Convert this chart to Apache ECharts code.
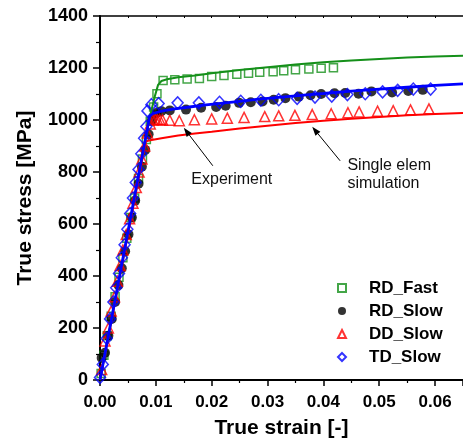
<!DOCTYPE html>
<html><head><meta charset="utf-8">
<script src="https://cdn.jsdelivr.net/npm/echarts/dist/echarts.min.js"></script>
<style>html,body{margin:0;padding:0;background:#fff}#c{width:463px;height:444px}</style>
</head><body><div id="c"></div>
<script>
// Experimental data (markers)
const rdFastStrain = [0.0002,0.0007,0.0013,0.0020,0.0027,0.0034,0.0041,0.0048,0.0055,0.0062,0.0069,0.0076,0.0083,0.0090,0.0096,0.0102,0.0113,0.0134,0.0156,0.0178,0.0200,0.0222,0.0245,0.0266,0.0286,0.0310,0.0329,0.0350,0.0374,0.0396,0.0418];
const rdFastStress = [25,95,170,245,320,395,470,545,625,700,775,850,925,995,1050,1101,1152,1155,1158,1160,1167,1171,1176,1180,1184,1186,1189,1193,1196,1199,1201];
const rdSlowStrain = [0.0003,0.0009,0.0015,0.0021,0.0027,0.0033,0.0039,0.0045,0.0051,0.0057,0.0063,0.0069,0.0075,0.0081,0.0087,0.0093,0.0101,0.0110,0.0125,0.0154,0.0181,0.0208,0.0225,0.0249,0.0270,0.0291,0.0311,0.0332,0.0356,0.0377,0.0396,0.0420,0.0439,0.0463,0.0486,0.0523,0.0552,0.0578];
const rdSlowStress = [85,105,170,235,300,365,430,495,560,625,690,755,820,885,945,1000,1027,1034,1037,1040,1047,1050,1055,1066,1068,1071,1078,1084,1090,1095,1100,1103,1104,1101,1110,1106,1112,1116];
const ddSlowStrain = [0.0003,0.0009,0.0015,0.0020,0.0026,0.0031,0.0036,0.0041,0.0047,0.0053,0.0059,0.0065,0.0070,0.0075,0.0080,0.0085,0.0090,0.0095,0.0099,0.0103,0.0107,0.0112,0.0125,0.0142,0.0169,0.0200,0.0228,0.0258,0.0295,0.0320,0.0349,0.0380,0.0414,0.0444,0.0464,0.0497,0.0525,0.0556,0.0589];
const ddSlowStress = [40,150,200,265,320,380,440,500,560,620,680,740,800,850,900,950,985,1000,1003,1001,1002,1000,999,997,1001,1004,1007,1010,1013,1016,1018,1021,1024,1028,1031,1034,1036,1039,1043];
const tdSlowStrain = [0.0000,0.0005,0.0012,0.0018,0.0024,0.0029,0.0034,0.0039,0.0044,0.0049,0.0054,0.0059,0.0064,0.0069,0.0074,0.0079,0.0083,0.0085,0.0092,0.0105,0.0139,0.0177,0.0214,0.0252,0.0288,0.0320,0.0353,0.0385,0.0415,0.0443,0.0475,0.0506,0.0533,0.0561,0.0592];
const tdSlowStress = [10,60,160,235,300,355,410,470,520,580,640,700,760,810,870,930,975,1035,1059,1063,1066,1066,1068,1072,1076,1078,1083,1088,1092,1098,1101,1108,1114,1119,1119];

// Single element simulation (lines)
const simFastStrain = [0,0.0089,0.0098,0.0104,0.0110,0.012,0.014,0.017,0.020,0.025,0.030,0.035,0.040,0.045,0.050,0.055,0.060,0.065];
const simFastStress = [0,1010,1090,1135,1150,1157,1164,1171,1180,1192,1203,1213,1222,1229,1235,1240,1244,1247];
const simSlowStrain = [0,0.0089,0.0095,0.0110,0.013,0.016,0.019,0.022,0.025,0.028,0.031,0.034,0.037,0.040,0.045,0.050,0.055,0.060,0.065];
const simSlowStress = [0,1015,1025,1034,1042,1050,1058,1065,1072,1079,1085,1091,1097,1102,1111,1119,1126,1133,1139];
const simDDStrain = [0,0.0082,0.009,0.011,0.014,0.017,0.020,0.025,0.030,0.035,0.040,0.045,0.050,0.055,0.060,0.065];
const simDDStress = [0,918,922,930,940,948,955,967,978,988,997,1005,1012,1018,1023,1027];

const legendNames = ['RD_Fast','RD_Slow','DD_Slow','TD_Slow'];
const xTicks = [0,0.01,0.02,0.03,0.04,0.05,0.06];
const yTicks = [0,200,400,600,800,1000,1200,1400];

const zip = (a,b) => a.map((v,i)=>[v,b[i]]);
const FONT = 'Liberation Sans, Arial, sans-serif';
const GREEN = '#15901a', RED = '#ff0000', BLUE = '#0000ff', BLACK = '#000000';

const chart = echarts.init(document.getElementById('c'), null, {renderer:'canvas'});
const hollow = c => ({color:'rgba(255,255,255,0)', borderColor:c, borderWidth:1.5});

chart.setOption({
  animation:false,
  backgroundColor:'#fff',
  grid:{left:100, top:16, width:365, height:366.5, containLabel:false},
  xAxis:[{
    type:'value', min:0, max:0.065, interval:0.01, position:'bottom',
    name:'True strain [-]', nameLocation:'middle', nameGap:38,
    nameTextStyle:{fontFamily:FONT, fontWeight:'bold', fontSize:21, color:'#000'},
    axisLine:{onZero:false, lineStyle:{color:'#000', width:2}},
    axisTick:{show:true, inside:false, length:6, lineStyle:{color:'#000', width:1.5}},
    minorTick:{show:true, splitNumber:2, length:3, lineStyle:{color:'#000', width:1.2}},
    splitLine:{show:false},
    axisLabel:{fontFamily:FONT, fontWeight:'bold', fontSize:17, color:'#000', margin:14, showMaxLabel:false,
      formatter:v => xTicks.some(t=>Math.abs(t-v)<1e-9) ? v.toFixed(2) : ''}
  },{
    type:'value', min:0, max:0.065, interval:0.01, position:'top',
    axisLine:{onZero:false, lineStyle:{color:'#000', width:1.5}},
    axisTick:{show:true, inside:true, length:2, lineStyle:{color:'#000', width:1}},
    minorTick:{show:true, splitNumber:2, length:2, lineStyle:{color:'#000', width:1}},
    splitLine:{show:false}, axisLabel:{show:false}
  }],
  yAxis:{
    type:'value', min:0, max:1400, interval:200,
    name:'True stress [MPa]', nameLocation:'middle', nameGap:64, nameRotate:90,
    nameTextStyle:{fontFamily:FONT, fontWeight:'bold', fontSize:21, color:'#000'},
    axisLine:{show:true, lineStyle:{color:'#000', width:2}},
    axisTick:{show:true, inside:false, length:7, lineStyle:{color:'#000', width:1.5}},
    minorTick:{show:true, splitNumber:2, length:4, lineStyle:{color:'#000', width:1.2}},
    splitLine:{show:false},
    axisLabel:{fontFamily:FONT, fontWeight:'bold', fontSize:18, color:'#000', margin:12,
      formatter:v => yTicks.includes(v) ? String(v) : ''}
  },
  legend:{
    orient:'vertical', left:332, top:274.5, itemWidth:8, itemHeight:8, itemGap:6,
    data:legendNames,
    formatter:n => '{t|'+n+'}',
    textStyle:{rich:{t:{fontFamily:FONT, fontWeight:'bold', fontSize:17, lineHeight:17, color:'#000', padding:[0,0,0,18]}}}
  },
  series:[
    {name:'RD_Fast', type:'scatter', symbol:'rect', symbolSize:8, itemStyle:hollow(GREEN), data:zip(rdFastStrain, rdFastStress), z:3},
    {name:'RD_Slow', type:'scatter', symbol:'circle', symbolSize:10, itemStyle:{color:BLACK}, data:zip(rdSlowStrain, rdSlowStress), z:3},
    {name:'DD_Slow', type:'scatter', symbol:'triangle', symbolSize:10, itemStyle:hollow(RED), data:zip(ddSlowStrain, ddSlowStress), z:3},
    {name:'TD_Slow', type:'scatter', symbol:'diamond', symbolSize:[11,12], itemStyle:hollow(BLUE), data:zip(tdSlowStrain, tdSlowStress), z:3},
    {name:'sim_fast', type:'line', showSymbol:false, lineStyle:{color:GREEN, width:2}, data:zip(simFastStrain, simFastStress), z:4},
    {name:'sim_dd', type:'line', showSymbol:false, lineStyle:{color:RED, width:2}, data:zip(simDDStrain, simDDStress), z:4},
    {name:'sim_slow', type:'line', showSymbol:false, lineStyle:{color:BLUE, width:2.8}, data:zip(simSlowStrain, simSlowStress), z:4}
  ]
});

// Annotations positioned through the axes
const P = (x,y) => chart.convertToPixel({xAxisIndex:0, yAxisIndex:0}, [x,y]);
const a1t = P(0.0202, 824), a1h = P(0.0150, 970);
const a2t = P(0.0430, 843), a2h = P(0.0380, 974);
const t1 = P(0.0236, 769);
const t2 = P(0.0443, 858);
const arrow = (t,h) => {
  const ang = Math.atan2(h[1]-t[1], h[0]-t[0]);
  const L = 9, W = 3.2;
  const bx = h[0]-L*Math.cos(ang), by = h[1]-L*Math.sin(ang);
  const px = -Math.sin(ang)*W, py = Math.cos(ang)*W;
  return [
    {type:'line', shape:{x1:t[0], y1:t[1], x2:bx, y2:by}, style:{stroke:'#000', lineWidth:1}, z:10},
    {type:'polygon', shape:{points:[[h[0],h[1]],[bx+px,by+py],[bx-px,by-py]]}, style:{fill:'#000'}, z:10}
  ];
};
chart.setOption({graphic:[
  ...arrow(a1t,a1h), ...arrow(a2t,a2h),
  {type:'text', x:t1[0], y:t1[1], style:{text:'Experiment', font:'16px '+FONT, fill:'#111', align:'center', verticalAlign:'middle'}, z:10},
  {type:'text', x:t2[0], y:t2[1], style:{text:'Single elem\nsimulation', font:'16px '+FONT, fill:'#111', align:'left', verticalAlign:'top', lineHeight:18}, z:10}
]});
</script></body></html>
